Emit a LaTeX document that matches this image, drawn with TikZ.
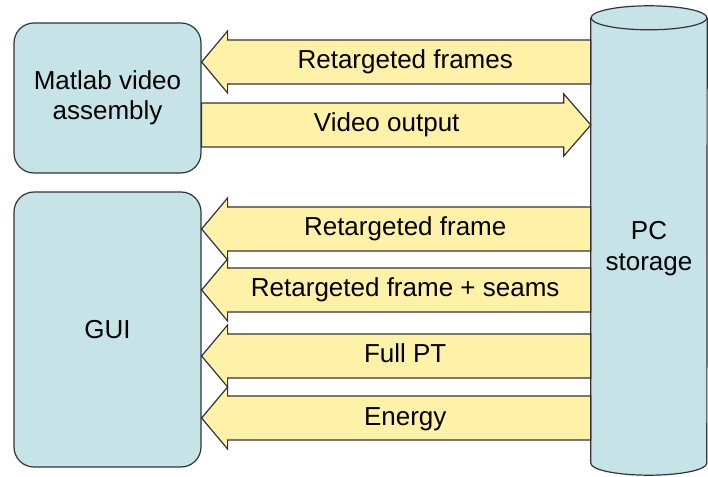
\documentclass[tikz,border=0pt]{standalone}
\usepackage{fontspec}
\setmainfont{Liberation Sans}
\usetikzlibrary{calc}
\definecolor{boxblue}{RGB}{198,228,232}
\definecolor{bandyellow}{RGB}{255,241,168}
\definecolor{edge}{RGB}{51,51,51}
\tikzset{
  labelfont/.style={font=\fontsize{26}{30.5}\selectfont},
  block/.style={draw=edge, line width=1.2pt, fill=boxblue, rounded corners=20pt,
    inner sep=0pt, align=center, labelfont},
  band/.style={draw=edge, line width=1.2pt, fill=bandyellow, line join=miter},
  bandtext/.style={anchor=base, labelfont},
}
% wide arrow from the storage (pc) into a block: #1 block, #2 centre height, #3 text, #4 name
\newcommand\leftband[4]{%
  \coordinate (#4-y) at (0,#2);
  \coordinate (#4-tip) at (#1.east |- #4-y);
  \coordinate (#4-tail) at (pc.west |- #4-y);
  \draw[band] (#4-tip) -- ++(26,31) -- ++(0,-9) -- ($(#4-tail)+(0,22)$) -- ++(0,-44)
    -- ($(#4-tip)+(26,-22)$) -- ++(0,-9) -- cycle;
  \node[bandtext] (#4) at ($(#4-tip)!0.5!(#4-tail)+(9,-7)$) {#3};
}
% wide arrow from a block into the storage (pc)
\newcommand\rightband[4]{%
  \coordinate (#4-y) at (0,#2);
  \coordinate (#4-tail) at (#1.east |- #4-y);
  \coordinate (#4-tip) at (pc.west |- #4-y);
  \draw[band] (#4-tip) -- ++(-27,31) -- ++(0,-9) -- ($(#4-tail)+(0,22)$) -- ++(0,-44)
    -- ($(#4-tip)+(-27,-22)$) -- ++(0,-9) -- cycle;
  \node[bandtext] (#4) at ($(#4-tail)!0.5!(#4-tip)+(-9.5,-7)$) {#3};
}
\begin{document}
\begin{tikzpicture}[x=1pt, y=1pt]
  \useasboundingbox (0,0) rectangle (708,476);

  % blocks
  \node[block, minimum width=187pt, minimum height=150pt] (matlab) at (107.5,378)
    {Matlab video\\assembly};
  \node[block, minimum width=187pt, minimum height=275pt] (gui) at (107.5,146.5) {GUI};

  % storage cylinder
  \node[minimum width=116pt, minimum height=445pt, inner sep=0pt] (pc) at (649,235.5) {};
  \fill[boxblue] (pc.north west) -- (pc.south west)
    arc[start angle=180, end angle=360, x radius=58, y radius=12]
    -- (pc.north east) arc[start angle=0, end angle=180, x radius=58, y radius=12] -- cycle;
  \draw[edge, line width=1.2pt] (pc.north west) -- (pc.south west)
    arc[start angle=180, end angle=360, x radius=58, y radius=12] -- (pc.north east);
  \draw[edge, line width=1.2pt] (pc.north) ellipse[x radius=58, y radius=12];
  \node[labelfont, align=center] (pclabel) at ($(pc.center)+(0,-8)$) {PC\\storage};

  % data flows
  \leftband{matlab}{414}{Retargeted frames}{frames}
  \rightband{matlab}{351}{Video output}{video}
  \leftband{gui}{247}{Retargeted frame}{frame}
  \leftband{gui}{186}{Retargeted frame + seams}{seams}
  \leftband{gui}{120}{Full PT}{fullpt}
  \leftband{gui}{58}{Energy}{energy}
\end{tikzpicture}
\end{document}
